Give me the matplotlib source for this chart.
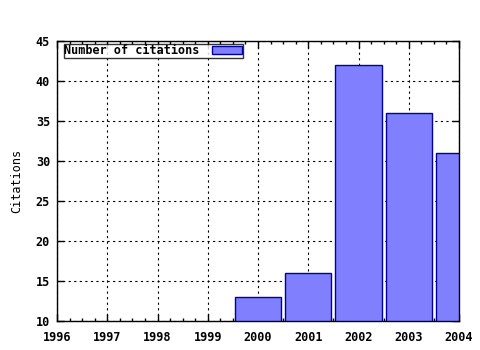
import matplotlib
matplotlib.use("Agg")
import matplotlib.pyplot as plt
from matplotlib.ticker import MultipleLocator

years = [2000, 2001, 2002, 2003, 2004]
citations = [13, 16, 42, 36, 31]
xticks = [1996, 1997, 1998, 1999, 2000, 2001, 2002, 2003, 2004]
yticks = [10, 15, 20, 25, 30, 35, 40, 45]

plt.rcParams['font.family'] = ['DejaVu Sans Mono']
plt.rcParams['font.weight'] = 'bold'

fig = plt.figure(figsize=(4.8, 3.5), dpi=100)
ax = fig.add_axes([57/480, 1-321/350, (459-57)/480, (321-41)/350])

ax.bar(years, citations, width=0.92, bottom=0, color='#8080ff', edgecolor='#0000a0',
       linewidth=1.0, label='Number of citations', zorder=2)
ax.set_xlim(1996, 2004)
ax.set_ylim(10, 45)
ax.set_xticks(xticks)
ax.set_xticklabels([str(x) for x in xticks])
ax.set_yticks(yticks)
ax.xaxis.set_minor_locator(MultipleLocator(0.25))
ax.tick_params(axis='x', which='major', direction='in', length=5, width=1,
               labelsize=8.5, top=True, pad=7)
ax.tick_params(axis='y', which='major', direction='in', length=5, width=1,
               labelsize=8.5, right=True, pad=5)
ax.tick_params(axis='x', which='minor', direction='in', length=2.5, width=1, top=True)
ax.grid(True, which='major', linestyle=(0, (2, 3)), color='black', linewidth=0.8, zorder=0)
ax.set_axisbelow(True)
for s in ax.spines.values():
    s.set_linewidth(1.0)
    s.set_zorder(3)
ax.set_ylabel('Citations', fontsize=8.5, fontweight='normal', labelpad=9)

leg = ax.legend(loc='upper left', bbox_to_anchor=(0.017, 0.99), fontsize=8.5,
                frameon=True, fancybox=False, borderpad=0.05, handlelength=2.6,
                handleheight=0.6, handletextpad=1.0, borderaxespad=0, markerfirst=False)
leg.get_frame().set_edgecolor('black')
leg.get_frame().set_linewidth(1.0)
for t in leg.get_texts():
    t.set_fontweight('bold')

fig.savefig('out.png', dpi=100)
